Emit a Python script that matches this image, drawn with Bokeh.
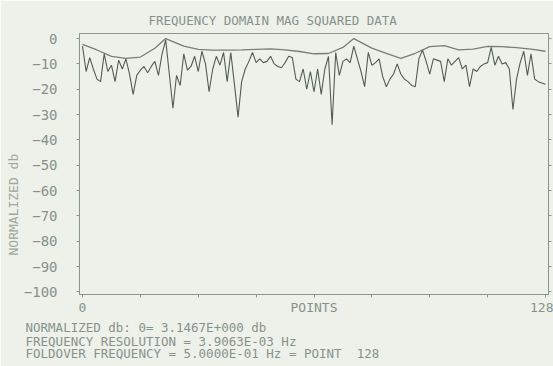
from bokeh.plotting import figure
from bokeh.models import LinearAxis, FixedTicker, Range1d, Title
from bokeh.embed import file_html
from bokeh.resources import INLINE

# ---- data ----
POINTS = list(range(129))
SPECTRUM_DB = [
    -3, -13, -7.5, -12, -16, -17, -6, -13, -10.5, -17,
    -8.5, -12, -8, -14, -22, -14.5, -12.5, -11, -13.5, -11,
    -9, -14.5, -6, -0.5, -14, -27.5, -14.5, -18.5, -6, -12.5,
    -11, -7, -13, -5, -10, -21, -12, -7, -10.5, -5.5,
    -17, -5.5, -18, -31, -17, -12, -9, -5.5, -9.5, -8,
    -9.5, -9, -7, -10, -11, -11.5, -9.5, -7, -7.5, -16,
    -17, -12, -20, -13, -21, -12, -22, -12, -7, -34,
    -5.5, -14.5, -9, -8, -9.5, -3, -8, -13, -19, -5.5,
    -10.5, -9.5, -8, -15, -19, -16, -14, -10, -14, -16,
    -17, -18.5, -19, -8, -4.5, -9, -14, -8, -8.5, -9,
    -17, -8, -10.5, -9, -7.5, -12, -10.5, -19, -12, -13,
    -11, -10, -9.5, -3.5, -10.5, -7, -10, -9.5, -12, -28,
    -16, -9.5, -5, -14.5, -6, -16, -17, -17.5, -18,
]
ENV_POINTS = [0, 4, 8, 12, 16, 20, 23, 28, 32, 36, 40, 44, 48, 52, 56, 60, 64,
              68, 72, 75, 80, 84, 88, 92, 96, 100, 104, 108, 112, 116, 120, 124, 128]
ENV_DB = [-2.3, -4.5, -7.0, -7.8, -7.3, -3.8, 0, -3, -4.3, -4.6, -4.6, -4.5, -4.3,
          -4.1, -4.5, -5.1, -6.0, -5.9, -3.5, 0, -3.8, -5.8, -7.8, -5.8, -3.2, -2.8,
          -4.5, -4.2, -3.1, -3.2, -3.6, -4.2, -5.0]
Y_TICKS = [0, -10, -20, -30, -40, -50, -60, -70, -80, -90, -100]
X_TICKS = [0, 16, 32, 48, 64, 80, 96, 112, 128]
X_TICK_LABELS = {0: "0", 64: "POINTS", 128: "128"}

TITLE = "FREQUENCY DOMAIN MAG SQUARED DATA"
Y_LABEL = "NORMALIZED db"
FOOT_LINES = [
    "NORMALIZED db: 0= 3.1467E+000 db",
    "FREQUENCY RESOLUTION = 3.9063E-03 Hz",
    "FOLDOVER FREQUENCY = 5.0000E-01 Hz = POINT\u00a0\u00a0128",
]

# ---- style ----
BG = "#edf1ea"
TXT = "#87918a"
AX = "#8c948c"
LINE = "#545c54"
ENV = "#767e76"
FONT = "DejaVu Sans Mono"
W, H = 553, 366

p = figure(width=W, height=H, x_range=Range1d(-0.83, 128.83), y_range=Range1d(-101, 2),
           output_backend="svg", toolbar_location=None,
           min_border_left=79, min_border_right=5, min_border_top=33, min_border_bottom=72,
           background_fill_color=BG, border_fill_color=BG)
p.grid.visible = False
p.outline_line_color = AX
p.outline_line_width = 1

# title
p.title.text = TITLE
p.title.align = "left"
p.title.offset = 69
p.title.text_font = FONT
p.title.text_font_size = "12.5px"
p.title.text_font_style = "normal"
p.title.text_color = TXT
p.title.standoff = 11

# left axis
ya = p.yaxis[0]
ya.ticker = FixedTicker(ticks=Y_TICKS)
ya.major_tick_out = 3
ya.major_tick_in = 0
ya.minor_tick_out = 0
ya.minor_tick_in = 0
ya.axis_line_color = AX
ya.major_tick_line_color = AX
ya.major_label_text_font = FONT
ya.major_label_text_font_size = "14px"
ya.major_label_text_color = TXT
ya.major_label_standoff = 19

p.add_layout(Title(text=Y_LABEL, align="left", offset=39, text_font=FONT,
                   text_font_size="13px", text_font_style="normal",
                   text_color="#9ea89e", standoff=0), "left")

# bottom axis
xa = p.xaxis[0]
xa.ticker = FixedTicker(ticks=X_TICKS)
xa.major_tick_out = 3
xa.major_tick_in = 0
xa.minor_tick_out = 0
xa.minor_tick_in = 0
xa.axis_line_color = AX
xa.major_tick_line_color = AX
xa.major_label_text_font = FONT
xa.major_label_text_font_size = "13px"
xa.major_label_text_color = TXT
xa.major_label_overrides = {t: X_TICK_LABELS.get(t, "") for t in X_TICKS}
xa.major_label_standoff = 2

right = LinearAxis(ticker=FixedTicker(ticks=Y_TICKS), major_tick_in=0, major_tick_out=3,
                   minor_tick_in=0, minor_tick_out=0, axis_line_color=AX,
                   major_tick_line_color=AX, major_label_text_font_size="0px",
                   major_label_overrides={t: "" for t in Y_TICKS}, major_label_standoff=0)
p.add_layout(right, "right")

# footer lines
for i, t in enumerate(FOOT_LINES):
    p.add_layout(Title(text=t, align="left", offset=-54, text_font=FONT,
                       text_font_size="12.5px", text_font_style="normal",
                       text_color=TXT, standoff=0 if i == 0 else -5), "below")

# data lines
p.line(ENV_POINTS, ENV_DB, line_color=ENV, line_width=1.3)
p.line(POINTS, SPECTRUM_DB, line_color=LINE, line_width=1.1)

open("out.html", "w").write(file_html(p, INLINE))
